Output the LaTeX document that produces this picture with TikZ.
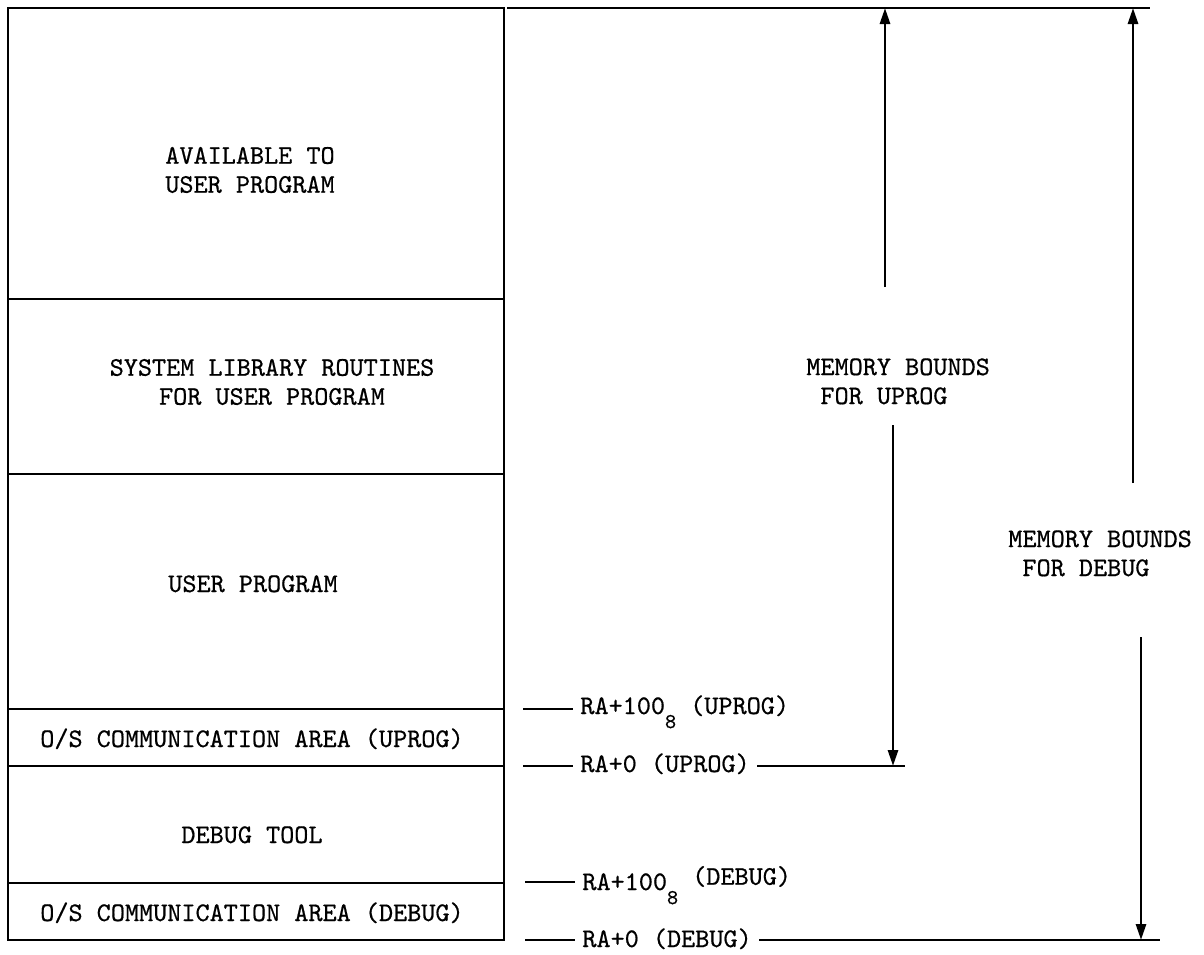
\documentclass[tikz,border=0pt]{standalone}
\usepackage{fontspec}
\setmonofont{lmmono10-regular.otf}[FakeBold=0.6]
\usepackage{tikz}
\usetikzlibrary{arrows.meta,calc}

\newcommand{\typer}{\fontsize{15.3}{16.5}\selectfont\ttfamily}
\newcommand{\lowsub}[1]{\raisebox{-8pt}{\fontsize{12}{12}\selectfont #1}}

\begin{document}
\begin{tikzpicture}[x=0.02cm, y=-0.02cm, font=\typer,
    wall/.style={line width=1.6pt},
    tick/.style={line width=1.1pt},
    bound/.style={line width=1.6pt, -{Triangle[length=0.32cm, width=0.2cm]}},
    addr/.style={anchor=base west, inner xsep=4pt, inner ysep=0pt},
    note/.style={anchor=north west, align=left, inner sep=0pt}]
    % Page
    \useasboundingbox (0,0) rectangle (1204,954);

    % Memory map
    \draw[wall] (8,8) rectangle (504,940);
    \foreach \y in {299,474,709,766,883}
        \draw[wall] (8,\y) -- (504,\y);

    % Region names
    \node[align=center] (avail) at (250,170) {AVAILABLE TO\\USER PROGRAM};
    \node[align=center] (syslib) at (272,382) {SYSTEM LIBRARY ROUTINES\\FOR USER PROGRAM};
    \node[anchor=base] (uprog) at (253,592) {USER PROGRAM};
    \node[anchor=base] (osu) at (252,747) {O/S COMMUNICATION AREA (UPROG)};
    \node[anchor=base] (dbg) at (252,843) {DEBUG TOOL};
    \node[anchor=base] (osd) at (252,921) {O/S COMMUNICATION AREA (DEBUG)};

    % Top of memory
    \coordinate (top0) at (507,8);
    \coordinate (top1) at (1150,8);
    \draw[wall] (top0) -- (top1);

    % Address marks (UPROG)
    \coordinate (m1) at (523,709);
    \node[addr] (a1) at (573,714) {RA+100\lowsub{8}~(UPROG)};
    \draw[tick] (m1) -- (m1 -| a1.west);
    \coordinate (m2) at (523,766);
    \node[addr] (a2) at (573,772) {RA+0~(UPROG)};
    \coordinate (u0) at (905,766);
    \draw[tick] (m2) -- (m2 -| a2.west);
    \draw[wall] (a2.east |- m2) -- (u0);

    % Address marks (DEBUG)
    \coordinate (m3) at (525,882);
    \node[addr] (a3) at (575,890) {RA+100\lowsub{8}~\raisebox{3pt}{(DEBUG)}};
    \draw[tick] (m3) -- (m3 -| a3.west);
    \coordinate (m4) at (525,940);
    \node[addr] (a4) at (575,947) {RA+0~(DEBUG)};
    \coordinate (d0) at (1160,940);
    \draw[tick] (m4) -- (m4 -| a4.west);
    \draw[wall] (a4.east |- m4) -- (d0);

    % Bounds for UPROG
    \node[note] (mbu) at (806,358) {MEMORY BOUNDS\\\phantom{M}FOR UPROG};
    \coordinate (ub1) at (885,287);
    \coordinate (ub2) at (893,425);
    \draw[bound] (ub1) -- (ub1 |- top0);
    \draw[bound] (ub2) -- (ub2 |- u0);

    % Bounds for DEBUG
    \node[note] (mbd) at (1008,530) {MEMORY BOUNDS\\\phantom{M}FOR DEBUG};
    \coordinate (db1) at (1133,483);
    \coordinate (db2) at (1141,637);
    \draw[bound] (db1) -- (db1 |- top0);
    \draw[bound] (db2) -- (db2 |- d0);
\end{tikzpicture}
\end{document}
